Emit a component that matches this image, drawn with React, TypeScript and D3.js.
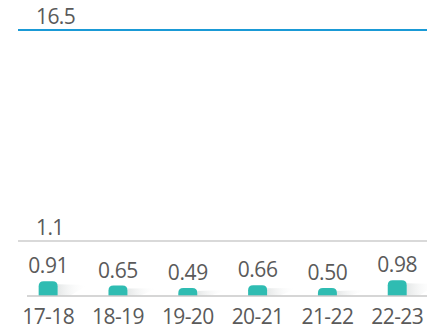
import React from "react";
import * as d3 from "d3";

// Seasons and their values
const seasons = ["17-18", "18-19", "19-20", "20-21", "21-22", "22-23"];
const values = [0.91, 0.65, 0.49, 0.66, 0.5, 0.98];
// Reference lines: the scale maximum and a threshold
const refValues = [16.5, 1.1];
const refColors = ["#1a9ad6", "#d9d9d9"];

const W = 427;
const H = 330;
const FONT = "'Open Sans', sans-serif";
const TEXT = "#5a5a5a";
const BAR = "#2fbcb2";

export default function App() {
  const baseY = 296;
  const x = d3.scaleBand<string>().domain(seasons).range([13.6, 431.8]).paddingInner(0.73).paddingOuter(0.36);
  const y = d3.scaleLinear().domain([0, 16.5]).range([baseY, 30]);
  // reference lines sit on a broken axis: the low band is stretched
  const yRef = d3.scaleLinear().domain([0, 1.1, 16.5]).range([baseY, 241, 30]);
  const bw = 19;
  const r = 5;

  const barPath = (cx: number, top: number) => {
    const l = cx - bw / 2;
    const rr = l + bw;
    const p = d3.path();
    p.moveTo(l, baseY);
    p.lineTo(l, top + r);
    p.quadraticCurveTo(l, top, l + r, top);
    p.lineTo(rr - r, top);
    p.quadraticCurveTo(rr, top, rr, top + r);
    p.lineTo(rr, baseY);
    p.closePath();
    return p.toString();
  };

  return (
    <svg width={W} height={H} style={{ position: "absolute", left: 0, top: 0 }}>
      <defs>
        <linearGradient id="shade" x1="0" y1="0" x2="1" y2="0">
          <stop offset="0" stopColor="#d4d8d8" stopOpacity={0.6} />
          <stop offset="1" stopColor="#ffffff" stopOpacity={0} />
        </linearGradient>
      </defs>
      <rect width={W} height={H} fill="#ffffff" />
      {refValues.map((v, i) => (
        <g key={v}>
          <line x1={18} x2={W} y1={yRef(v)} y2={yRef(v)} stroke={refColors[i]} strokeWidth={2} />
          <text x={36} y={yRef(v) - 6} fontFamily={FONT} fontSize={21} fill={TEXT} letterSpacing={-0.6}>
            {v}
          </text>
        </g>
      ))}
      {seasons.map((s, i) => {
        const cx = (x(s) as number) + x.bandwidth() / 2;
        const top = y(values[i]);
        const h = baseY - top;
        const rx = cx + bw / 2;
        return (
          <g key={s}>
            <polygon
              points={`${rx},${top + 3} ${rx + 30},${baseY - h * 0.75} ${rx + 12},${baseY} ${rx},${baseY}`}
              fill="url(#shade)"
            />
            <path d={barPath(cx, top)} fill={BAR} />
            <text x={cx} y={top - 8} textAnchor="middle" fontFamily={FONT} fontSize={21} fill={TEXT} letterSpacing={-0.4}>
              {values[i].toFixed(2)}
            </text>
            <text x={cx} y={324} textAnchor="middle" fontFamily={FONT} fontSize={21} fill={TEXT} letterSpacing={-0.6}>
              {s}
            </text>
          </g>
        );
      })}
      <line x1={27} x2={W} y1={baseY} y2={baseY} stroke="#c8c8c8" strokeWidth={1.5} />
    </svg>
  );
}
